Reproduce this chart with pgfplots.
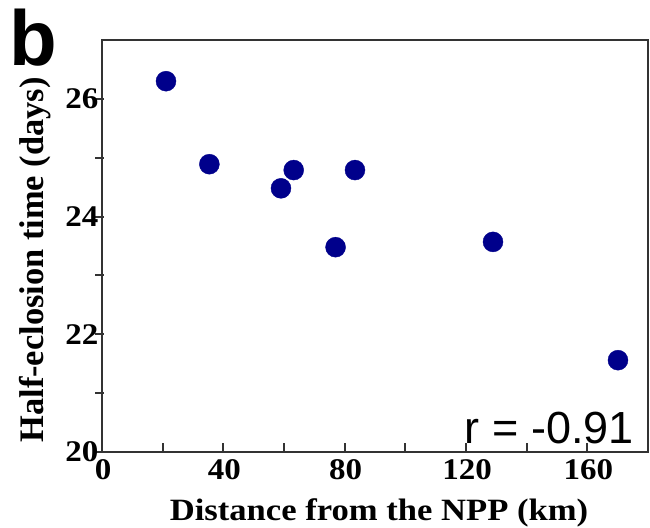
\documentclass[border=0pt]{standalone}
\usepackage{pgfplots}
\pgfplotsset{compat=1.18}
\usepackage{fontspec}
\setmainfont{Liberation Serif}
\newfontfamily\stretchserif{Liberation Serif}[FakeStretch=1.1]
\setsansfont{Liberation Sans}
\definecolor{navy}{RGB}{0,0,139}
\begin{document}
\begin{tikzpicture}
\useasboundingbox (0,0) rectangle (650bp,528bp);
\begin{axis}[
  at={(102bp,76bp)}, anchor=south west,
  scale only axis, width=546bp, height=412bp,
  xmin=0, xmax=180, ymin=20, ymax=27,
  xtick={0,40,...,160}, minor xtick={20,60,100,140},
  ytick={20,22,24,26}, minor ytick={21,23,25},
  tick pos=left, tick align=inside,
  major tick length=9bp, minor tick length=9bp,
  axis line style={line width=2bp, black!80},
  tick style={line width=2bp, black!80},
  y tick style={xshift=-7bp},
  ticklabel style={font=\stretchserif\bfseries\fontsize{30bp}{30bp}\selectfont},
  /pgf/number format/assume math mode=true,
  xticklabel style={yshift=-4bp, xshift=1bp},
  clip=false,
]
\addplot[only marks, mark=*, mark size=10bp, mark options={draw=navy, fill=navy}] coordinates {
  (21.1,26.30) (35.4,24.89) (59.0,24.48) (63.2,24.79)
  (77.0,23.48) (83.4,24.79) (128.9,23.57) (170.1,21.56)
};
\end{axis}
\node[anchor=base west, inner sep=0pt, font=\sffamily\bfseries\fontsize{78bp}{78bp}\selectfont] at (9bp,462bp) {b};
\node[anchor=base east, inner sep=0pt, font=\sffamily\fontsize{45bp}{45bp}\selectfont] at (634bp,84bp) {r = -0.91};
\node[anchor=base, inner sep=0pt, font=\stretchserif\bfseries\fontsize{31bp}{31bp}\selectfont, xscale=1.015] at (379bp,8bp) {Distance from the NPP (km)};
\node[anchor=center, rotate=90, inner sep=0pt, font=\bfseries\fontsize{34.4bp}{34.4bp}\selectfont] at (35bp,268bp) {Half-eclosion time (days)};
\end{tikzpicture}
\end{document}
